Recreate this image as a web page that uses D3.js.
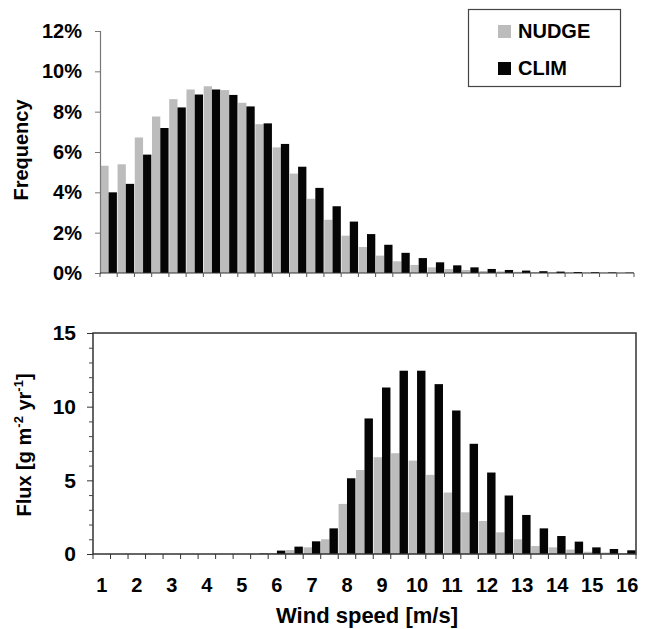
<!DOCTYPE html>
<html><head><meta charset="utf-8">
<script src="https://cdn.jsdelivr.net/npm/d3@7"></script>
<style>
body{margin:0;background:#fff}
text{font-family:"Liberation Sans",Arial,Helvetica,sans-serif;font-weight:bold;fill:#000}
</style>
</head><body>
<svg id="c" width="652" height="629"></svg>
<script>
// ---- data ----
const speeds = ["1","1.5","2","2.5","3","3.5","4","4.5","5","5.5","6","6.5","7","7.5","8","8.5",
                "9","9.5","10","10.5","11","11.5","12","12.5","13","13.5","14","14.5","15","15.5","16"];
const speedLabels = ["1","2","3","4","5","6","7","8","9","10","11","12","13","14","15","16"];
const seriesNames = ["NUDGE","CLIM"];
const seriesColors = ["#bcbcbc","#050505"];

const freqNudge = [0.0532,0.0539,0.0672,0.0776,0.0862,0.0910,0.0926,0.0907,0.0844,0.0738,0.0623,0.0493,
                   0.0368,0.0264,0.0185,0.0129,0.0086,0.0058,0.0040,0.0028,0.0020,0.0015,0.0010,0.0008,
                   0.0006,0.0005,0.0004,0.0003,0.0002,0.0002,0.0001];
const freqClim  = [0.0400,0.0442,0.0587,0.0719,0.0821,0.0885,0.0910,0.0883,0.0826,0.0742,0.0640,0.0527,
                   0.0422,0.0331,0.0255,0.0193,0.0140,0.0100,0.0074,0.0053,0.0038,0.0028,0.0020,0.0015,
                   0.0012,0.0009,0.0007,0.0005,0.0004,0.0003,0.0002];
const fluxNudge = [0,0,0,0,0,0,0,0,0,0,0.05,0.27,0.45,1.0,3.4,5.7,6.57,6.84,6.34,5.37,4.17,2.83,2.24,1.47,
                   1.0,0.54,0.45,0.30,0.15,0.10,0.05];
const fluxClim  = [0,0,0,0,0,0,0,0,0,0.03,0.23,0.5,0.86,1.74,5.14,9.2,11.3,12.44,12.44,11.53,9.74,7.48,5.53,3.97,
                   2.65,1.74,1.22,0.84,0.45,0.34,0.25];
const freqTicks = [0,0.02,0.04,0.06,0.08,0.10,0.12];
const fluxTicks = [0,5,10,15];
const fluxMinorTicks = [1,2,3,4,6,7,8,9,11,12,13,14];

// ---- drawing ----
const svg = d3.select("#c");
const font = "Liberation Sans, Arial, sans-serif";

function drawBars(g, x, y, seriesArr) {
  const sub = d3.scaleBand().domain(seriesNames).range([0, x.bandwidth()]).paddingOuter(0.04);
  seriesArr.forEach((vals, si) => {
    g.selectAll(null).data(speeds).enter().append("rect")
      .attr("x", d => x(d) + sub(seriesNames[si]))
      .attr("width", sub.bandwidth())
      .attr("y", (d, i) => y(vals[i]))
      .attr("height", (d, i) => y(0) - y(vals[i]))
      .attr("fill", seriesColors[si]);
  });
}

function boundaryTicks(g, x, yBase, len, color) {
  const bounds = speeds.map(s => x(s)).concat([x.range()[1]]);
  g.selectAll(null).data(bounds).enter().append("line")
    .attr("x1", d => d).attr("x2", d => d)
    .attr("y1", yBase).attr("y2", yBase + len)
    .attr("stroke", color).attr("stroke-width", 1);
}

// ---------- top chart ----------
const xTop = d3.scaleBand().domain(speeds).range([100, 634]).padding(0);
const yTop = d3.scaleLinear().domain([0, 0.12]).range([273, 31]);
const gTop = svg.append("g");
drawBars(gTop, xTop, yTop, [freqNudge, freqClim]);

const yAxTop = gTop.append("g").attr("transform", "translate(100,0)")
  .call(d3.axisLeft(yTop).tickValues(freqTicks).tickFormat(d3.format(".0%")).tickSize(5).tickPadding(13));
yAxTop.select(".domain").attr("stroke", "#777").attr("stroke-width", 1.2);
yAxTop.selectAll(".tick line").attr("stroke", "#777");
yAxTop.selectAll(".tick text").attr("font-size", 20).attr("font-family", font).attr("font-weight", "bold");

gTop.append("line").attr("x1", 100).attr("x2", 634).attr("y1", 273).attr("y2", 273)
  .attr("stroke", "#333").attr("stroke-width", 1.2);
boundaryTicks(gTop, xTop, 273, 4, "#555");

gTop.append("text").attr("transform", "translate(28,150) rotate(-90)")
  .attr("text-anchor", "middle").attr("font-size", 20).text("Frequency");

// legend
const lg = svg.append("g");
lg.append("rect").attr("x", 468.5).attr("y", 9.5).attr("width", 152).attr("height", 77)
  .attr("fill", "#fff").attr("stroke", "#444").attr("stroke-width", 1.2);
seriesNames.forEach((n, i) => {
  const yy = [25, 62][i];
  lg.append("rect").attr("x", 498).attr("y", yy).attr("width", 13).attr("height", 13).attr("fill", seriesColors[i]);
  lg.append("text").attr("x", 518).attr("y", yy + 13).attr("font-size", 20).text(n);
});

// ---------- bottom chart ----------
const xBot = d3.scaleBand().domain(speeds).range([93, 636]).padding(0);
const yBot = d3.scaleLinear().domain([0, 15]).range([554, 333]);
const gBot = svg.append("g");
drawBars(gBot, xBot, yBot, [fluxNudge, fluxClim]);

gBot.append("rect").attr("x", 93).attr("y", 333).attr("width", 636 - 93).attr("height", 554 - 333)
  .attr("fill", "none").attr("stroke", "#333").attr("stroke-width", 1.5);

const yAxBot = gBot.append("g").attr("transform", "translate(93,0)")
  .call(d3.axisLeft(yBot).tickValues(fluxTicks).tickSize(6).tickPadding(11));
yAxBot.select(".domain").remove();
yAxBot.selectAll(".tick line").attr("stroke", "#333");
yAxBot.selectAll(".tick text").attr("font-size", 21).attr("font-family", font).attr("font-weight", "bold");
gBot.append("g").attr("transform", "translate(93,0)")
  .call(d3.axisLeft(yBot).tickValues(fluxMinorTicks).tickSize(4).tickFormat(""))
  .call(g => g.select(".domain").remove())
  .selectAll(".tick line").attr("stroke", "#444");

boundaryTicks(gBot, xBot, 554, 5, "#333");

const xAxBot = gBot.append("g").attr("transform", "translate(0,554)")
  .call(d3.axisBottom(xBot).tickValues(speedLabels).tickSize(0).tickPadding(24));
xAxBot.select(".domain").remove();
xAxBot.selectAll(".tick text").attr("font-size", 20).attr("font-family", font).attr("font-weight", "bold");

gBot.append("text").attr("x", 367).attr("y", 623).attr("text-anchor", "middle")
  .attr("font-size", 22).text("Wind speed [m/s]");

const flux = gBot.append("text").attr("transform", "translate(31,445) rotate(-90)")
  .attr("text-anchor", "middle").attr("font-size", 20);
flux.append("tspan").text("Flux [g m");
flux.append("tspan").attr("font-size", 13).attr("dy", -8).text("-2");
flux.append("tspan").attr("dy", 8).text(" yr");
flux.append("tspan").attr("font-size", 13).attr("dy", -8).text("-1");
flux.append("tspan").attr("dy", 8).text("]");
</script>
</body></html>
